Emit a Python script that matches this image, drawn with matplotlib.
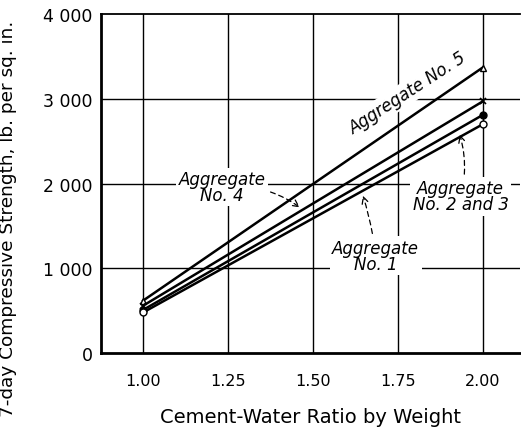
import matplotlib.pyplot as plt

ratio = [1.00, 2.00]
agg5 = [620, 3370]
agg4 = [560, 2970]
agg23 = [510, 2810]
agg1 = [480, 2700]

xticks = [1.00, 1.25, 1.50, 1.75, 2.00]
xticklabels = ["1.00", "1.25", "1.50", "1.75", "2.00"]
yticks = [0, 1000, 2000, 3000, 4000]
yticklabels = ["0", "1 000", "2 000", "3 000", "4 000"]


def main():
    fig = plt.figure(figsize=(5.21, 4.35), dpi=100)
    ax = fig.add_axes([0.194, 0.186, 0.804, 0.779])

    ax.set_xlim(0.876, 2.11)
    ax.set_ylim(0, 4000)

    for x in xticks:
        ax.axvline(x, color="black", lw=1.0, zorder=1)
    for y in yticks[1:-1]:
        ax.axhline(y, color="black", lw=1.0, zorder=1)

    kw = dict(color="black", lw=1.8, ms=5, zorder=3)
    ax.plot(ratio, agg5, marker="^", mfc="white", **kw)
    ax.plot(ratio, agg4, marker="x", mew=1.2, **kw)
    ax.plot(ratio, agg23, marker="o", mfc="black", **kw)
    ax.plot(ratio, agg1, marker="o", mfc="white", **kw)

    box = dict(boxstyle="square,pad=0.15", fc="white", ec="none")
    arr = dict(arrowstyle="->", color="black", lw=0.9, linestyle=(0, (4, 3)))
    tfont = dict(fontsize=12, style="italic", ha="center", va="center",
                 linespacing=0.85, zorder=2)

    ax.text(1.78, 3080, "Aggregate No. 5", rotation=33, bbox=box, **tfont)
    ax.annotate("Aggregate\nNo. 4", xy=(1.468, 1700), xytext=(1.232, 1960),
                arrowprops=dict(arr, connectionstyle="arc3,rad=-0.2"),
                bbox=box, **tfont)
    ax.annotate("Aggregate\nNo. 1", xy=(1.645, 1890), xytext=(1.685, 1150),
                arrowprops=dict(arr, connectionstyle="arc3,rad=0.05"),
                bbox=box, **tfont)
    ax.annotate("Aggregate\nNo. 2 and 3", xy=(1.93, 2610), xytext=(1.935, 1850),
                arrowprops=dict(arr, connectionstyle="arc3,rad=0.15"),
                bbox=box, **tfont)

    ax.set_xticks(xticks)
    ax.set_xticklabels(xticklabels)
    ax.set_yticks(yticks)
    ax.set_yticklabels(yticklabels)
    ax.tick_params(length=0)
    ax.tick_params(axis="x", labelsize=11.5, pad=14)
    ax.tick_params(axis="y", labelsize=12.5, pad=6)

    ax.spines["right"].set_visible(False)
    ax.spines["left"].set_linewidth(2.0)
    ax.spines["bottom"].set_linewidth(2.0)
    ax.spines["top"].set_linewidth(1.3)

    ax.set_xlabel("Cement-Water Ratio by Weight", fontsize=14, labelpad=14)
    ax.set_ylabel("7-day Compressive Strength, lb. per sq. in.", fontsize=13.3)
    ax.yaxis.set_label_coords(-0.2, 0.40)

    fig.savefig("out.png", dpi=100)
    plt.close("all")


if __name__ == "__main__":
    main()
